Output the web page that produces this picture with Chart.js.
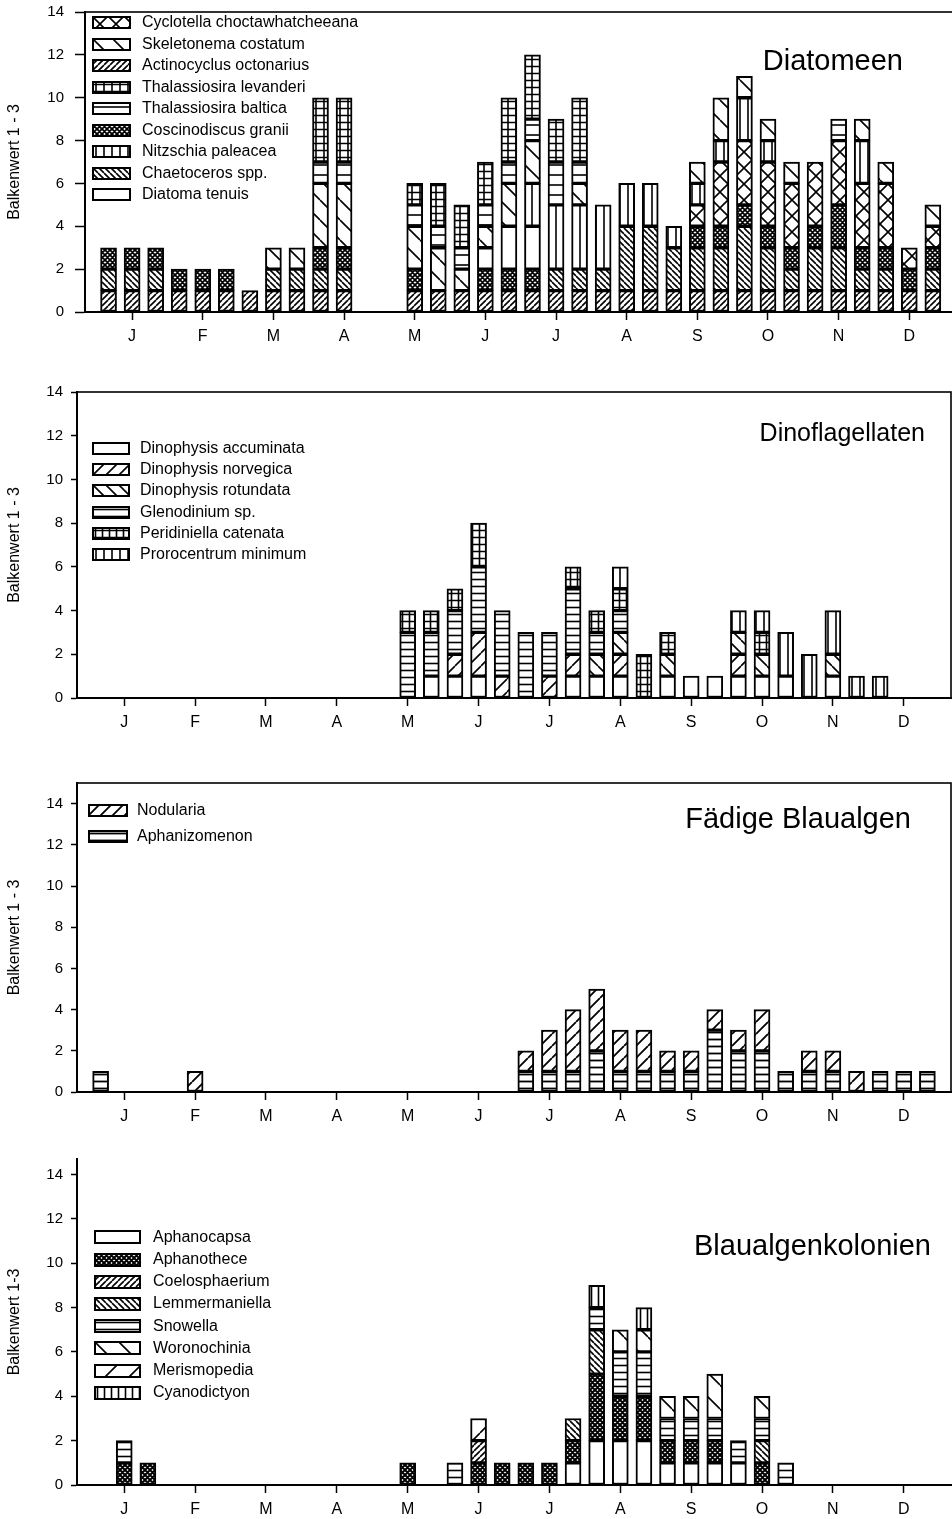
<!DOCTYPE html>
<html>
<head>
<meta charset="utf-8">
<script src="https://cdn.jsdelivr.net/npm/chart.js@4.4.0/dist/chart.umd.min.js"></script>
<style>
  body { margin: 0; width: 952px; height: 1519px; overflow: hidden; background: #fff; position: relative;
         font-family: "Liberation Sans", Arial, sans-serif; color: #000; }
  canvas.panel { position: absolute; left: 0; }
  .title { position: absolute; line-height: 32px; white-space: nowrap; text-align: right; }
  .lg-text { position: absolute; font-size: 16px; line-height: 18px; white-space: nowrap; }
  canvas.swatch { position: absolute; }
</style>
</head>
<body>
<canvas class="panel" id="c1"></canvas>
<canvas class="panel" id="c2"></canvas>
<canvas class="panel" id="c3"></canvas>
<canvas class="panel" id="c4"></canvas>

<script>
// x positions: decade of the year (3 per month), 0 = early January
const months = ['J', 'F', 'M', 'A', 'M', 'J', 'J', 'A', 'S', 'O', 'N', 'D'];
const monthTicks = [1, 4, 7, 10, 13, 16, 19, 22, 25, 28, 31, 34];
const yTicks = [0, 2, 4, 6, 8, 10, 12, 14];

// --- Diatomeen (Balkenwert per decade) ---
const actinocyclus   = [1,1,1,1,1,1,1,1,1,1,1,0,0,1,1,1,1,1,1,1,1,1,1,1,1,1,1,1,1,1,1,1,1,1,1,1];
const chaetoceros    = [1,1,1,0,0,0,0,1,1,1,1,0,0,0,0,0,0,0,0,1,1,1,3,3,2,2,2,3,2,1,2,2,1,1,0,1];
const coscinodiscus  = [1,1,1,1,1,1,0,0,0,1,1,0,0,1,0,0,1,1,1,0,0,0,0,0,0,1,1,1,1,1,1,2,1,1,1,1];
const diatoma        = [0,0,0,0,0,0,0,0,0,0,0,0,0,0,0,0,1,2,2,0,0,0,0,0,0,0,0,0,0,0,0,0,0,0,0,0];
const cyclotella     = [0,0,0,0,0,0,0,0,0,0,0,0,0,0,0,0,0,0,0,0,0,0,0,0,0,1,3,3,3,3,3,3,3,3,1,1];
const nitzschia      = [0,0,0,0,0,0,0,0,0,0,0,0,0,0,0,0,0,0,2,3,3,3,2,2,1,1,1,2,1,0,0,0,2,0,0,0];
const skeletonema    = [0,0,0,0,0,0,0,1,1,3,3,0,0,2,2,1,1,2,2,0,1,0,0,0,0,1,2,1,1,1,0,0,1,1,0,1];
const tBaltica       = [0,0,0,0,0,0,0,0,0,1,1,0,0,1,1,1,1,1,1,2,1,0,0,0,0,0,0,0,0,0,0,1,0,0,0,0];
const tLevanderi     = [0,0,0,0,0,0,0,0,0,3,3,0,0,1,2,2,2,3,3,2,3,0,0,0,0,0,0,0,0,0,0,0,0,0,0,0];

// --- Dinoflagellaten ---
const dAccuminata    = [0,0,0,0,0,0,0,0,0,0,0,0,0,0,1,1,1,0,0,0,1,1,1,0,1,1,1,1,1,1,0,1,0,0,0,0];
const dNorvegica     = [0,0,0,0,0,0,0,0,0,0,0,0,0,0,0,1,2,1,0,1,1,0,1,0,0,0,0,1,0,0,0,0,0,0,0,0];
const dRotundata     = [0,0,0,0,0,0,0,0,0,0,0,0,0,0,0,0,0,0,0,0,0,1,1,0,1,0,0,1,1,0,0,1,0,0,0,0];
const glenodinium    = [0,0,0,0,0,0,0,0,0,0,0,0,0,3,2,2,3,3,3,2,3,1,1,0,0,0,0,0,0,0,0,0,0,0,0,0];
const peridiniella   = [0,0,0,0,0,0,0,0,0,0,0,0,0,1,1,1,2,0,0,0,1,1,1,2,1,0,0,0,1,0,0,0,0,0,0,0];
const prorocentrum   = [0,0,0,0,0,0,0,0,0,0,0,0,0,0,0,0,0,0,0,0,0,0,1,0,0,0,0,1,1,2,2,2,1,1,0,0];

// --- Fädige Blaualgen ---
const aphanizomenon  = [1,0,0,0,0,0,0,0,0,0,0,0,0,0,0,0,0,0,1,1,1,2,1,1,1,1,3,2,2,1,1,1,0,1,1,1];
const nodularia      = [0,0,0,0,1,0,0,0,0,0,0,0,0,0,0,0,0,0,1,2,3,3,2,2,1,1,1,1,2,0,1,1,1,0,0,0];

// --- Blaualgenkolonien ---
const aphanocapsa    = [0,0,0,0,0,0,0,0,0,0,0,0,0,0,0,0,0,0,0,0,1,2,2,2,1,1,1,1,0,0,0,0,0,0,0,0];
const aphanothece    = [0,1,1,0,0,0,0,0,0,0,0,0,0,1,0,0,1,1,1,1,1,3,2,2,1,1,1,0,1,0,0,0,0,0,0,0];
const coelosphaerium = [0,0,0,0,0,0,0,0,0,0,0,0,0,0,0,0,1,0,0,0,0,0,0,0,0,0,0,0,0,0,0,0,0,0,0,0];
const lemmermaniella = [0,0,0,0,0,0,0,0,0,0,0,0,0,0,0,0,0,0,0,0,1,2,0,0,0,0,0,0,1,0,0,0,0,0,0,0];
const snowella       = [0,1,0,0,0,0,0,0,0,0,0,0,0,0,0,1,0,0,0,0,0,1,2,2,1,1,1,1,1,1,0,0,0,0,0,0];
const woronochinia   = [0,0,0,0,0,0,0,0,0,0,0,0,0,0,0,0,0,0,0,0,0,0,1,1,1,1,2,0,1,0,0,0,0,0,0,0];
const merismopedia   = [0,0,0,0,0,0,0,0,0,0,0,0,0,0,0,0,1,0,0,0,0,0,0,0,0,0,0,0,0,0,0,0,0,0,0,0];
const cyanodictyon   = [0,0,0,0,0,0,0,0,0,0,0,0,0,0,0,0,0,0,0,0,0,1,0,1,0,0,0,0,0,0,0,0,0,0,0,0];

// hatch tiles
function makeTile(spec) {
  const sx = spec.sx || spec.s || 4, sy = spec.sy || spec.s || 4;
  let w = sx, h = sy;
  if (spec.kind === 'horiz') w = 4;
  if (spec.kind === 'vert') h = 4;
  const c = document.createElement('canvas');
  c.width = w; c.height = h;
  const g = c.getContext('2d');
  g.fillStyle = '#fff';
  g.fillRect(0, 0, w, h);
  g.strokeStyle = '#000';
  g.lineWidth = spec.lw || 1.6;
  g.beginPath();
  const k = spec.kind;
  if (k === 'fwd' || k === 'cross') for (const o of [-w, 0, w]) { g.moveTo(o, h); g.lineTo(o + w, 0); }
  if (k === 'back' || k === 'cross') for (const o of [-w, 0, w]) { g.moveTo(o, 0); g.lineTo(o + w, h); }
  if (k === 'horiz' || k === 'grid') { g.moveTo(0, h / 2); g.lineTo(w, h / 2); }
  if (k === 'vert' || k === 'grid') { g.moveTo(w / 2, 0); g.lineTo(w / 2, h); }
  g.stroke();
  return c;
}
function pattern(ctx, spec) {
  return ctx.createPattern(makeTile(spec), 'repeat');
}

const EMPTY = { kind: 'none' };

const panels = [
  {
    id: 'c1', canvasTop: 0, width: 960, plot: { left: 85, right: 956.4, top: 12, bottom: 312 }, ymax: 14,
    yTitle: 'Balkenwert 1 - 3', frame: true, yTick: 10, yPad: 11,
    series: [
      { label: 'Actinocyclus octonarius', values: actinocyclus, fill: { kind: 'fwd', s: 6 } },
      { label: 'Chaetoceros spp.', values: chaetoceros, fill: { kind: 'back', s: 6 } },
      { label: 'Coscinodiscus granii', values: coscinodiscus, fill: { kind: 'cross', s: 5, lw: 1.8 } },
      { label: 'Diatoma tenuis', values: diatoma, fill: EMPTY },
      { label: 'Cyclotella choctawhatcheeana', values: cyclotella, fill: { kind: 'cross', s: 16 } },
      { label: 'Nitzschia paleacea', values: nitzschia, fill: { kind: 'vert', s: 8 } },
      { label: 'Skeletonema costatum', values: skeletonema, fill: { kind: 'back', s: 20 } },
      { label: 'Thalassiosira baltica', values: tBaltica, fill: { kind: 'horiz', s: 10 } },
      { label: 'Thalassiosira levanderi', values: tLevanderi, fill: { kind: 'grid', sx: 8, sy: 7 } }
    ],
    legendOrder: ['Cyclotella choctawhatcheeana', 'Skeletonema costatum', 'Actinocyclus octonarius',
      'Thalassiosira levanderi', 'Thalassiosira baltica', 'Coscinodiscus granii', 'Nitzschia paleacea',
      'Chaetoceros spp.', 'Diatoma tenuis'],
    legend: { swatchX: 92, textX: 142, y0: 22.7, dy: 21.5, w: 39, h: 13 },
    title: { text: 'Diatomeen', right: 903, cy: 60, size: 29 }
  },
  {
    id: 'c2', canvasTop: 380, width: 952, plot: { left: 77, right: 951, top: 392, bottom: 698 }, ymax: 14,
    yTitle: 'Balkenwert 1 - 3', frame: true, yTick: 6, yPad: 8,
    series: [
      { label: 'Dinophysis accuminata', values: dAccuminata, fill: EMPTY },
      { label: 'Dinophysis norvegica', values: dNorvegica, fill: { kind: 'fwd', s: 13 } },
      { label: 'Dinophysis rotundata', values: dRotundata, fill: { kind: 'back', s: 13 } },
      { label: 'Glenodinium sp.', values: glenodinium, fill: { kind: 'horiz', s: 7 } },
      { label: 'Peridiniella catenata', values: peridiniella, fill: { kind: 'grid', sx: 7, sy: 7 } },
      { label: 'Prorocentrum minimum', values: prorocentrum, fill: { kind: 'vert', s: 8 } }
    ],
    legend: { swatchX: 92, textX: 140, y0: 448.3, dy: 21.3, w: 38, h: 13 },
    title: { text: 'Dinoflagellaten', right: 925, cy: 432, size: 25 }
  },
  {
    id: 'c3', canvasTop: 770, width: 952, plot: { left: 77, right: 951, top: 783, bottom: 1092 }, ymax: 15,
    yTitle: 'Balkenwert 1 - 3', frame: true, yTick: 6, yPad: 8,
    series: [
      { label: 'Aphanizomenon', values: aphanizomenon, fill: { kind: 'horiz', s: 7, lw: 1.8 } },
      { label: 'Nodularia', values: nodularia, fill: { kind: 'fwd', s: 12, lw: 1.8 } }
    ],
    legendOrder: ['Nodularia', 'Aphanizomenon'],
    legend: { swatchX: 88, textX: 137, y0: 810.7, dy: 26, w: 40, h: 13 },
    title: { text: 'Fädige Blaualgen', right: 911, cy: 818, size: 29 }
  },
  {
    id: 'c4', canvasTop: 1145, width: 952, plot: { left: 77, right: 951, top: 1159, bottom: 1485 }, ymax: 14.7,
    yTitle: 'Balkenwert 1-3', frame: false, yTick: 6, yPad: 8,
    series: [
      { label: 'Aphanocapsa', values: aphanocapsa, fill: EMPTY },
      { label: 'Aphanothece', values: aphanothece, fill: { kind: 'cross', s: 5, lw: 2 } },
      { label: 'Coelosphaerium', values: coelosphaerium, fill: { kind: 'fwd', s: 6 } },
      { label: 'Lemmermaniella', values: lemmermaniella, fill: { kind: 'back', s: 6 } },
      { label: 'Snowella', values: snowella, fill: { kind: 'horiz', s: 7 } },
      { label: 'Woronochinia', values: woronochinia, fill: { kind: 'back', s: 24 } },
      { label: 'Merismopedia', values: merismopedia, fill: { kind: 'fwd', s: 24 } },
      { label: 'Cyanodictyon', values: cyanodictyon, fill: { kind: 'vert', s: 7 } }
    ],
    legend: { swatchX: 94, textX: 153, y0: 1237.3, dy: 22.2, w: 47, h: 14 },
    title: { text: 'Blaualgenkolonien', right: 931, cy: 1245, size: 29 }
  }
];

const FONT = '"Liberation Sans", Arial, sans-serif';

const frame = {
  id: 'frame',
  afterDraw(chart, args, opts) {
    if (!opts.show) return;
    const a = chart.chartArea, c = chart.ctx;
    c.save();
    c.strokeStyle = '#000';
    c.lineWidth = 1.6;
    c.strokeRect(a.left, a.top, a.right - a.left, a.bottom - a.top);
    c.restore();
  }
};

function toPoints(values) {
  const pts = [];
  values.forEach((v, i) => { if (v) pts.push({ x: i, y: v }); });
  return pts;
}

function buildPanel(p) {
  const canvas = document.getElementById(p.id);
  const H = Math.ceil(p.plot.bottom - p.canvasTop + 45);
  canvas.width = p.width;
  canvas.height = H;
  canvas.style.top = p.canvasTop + 'px';
  const ctx = canvas.getContext('2d');
  const xHeight = H - (p.plot.bottom - p.canvasTop);

  new Chart(ctx, {
    type: 'bar',
    data: {
      datasets: p.series.map(s => ({
        label: s.label,
        data: toPoints(s.values),
        backgroundColor: pattern(ctx, s.fill),
        borderColor: '#000',
        borderWidth: 2,
        borderSkipped: false,
        barThickness: 16
      }))
    },
    options: {
      responsive: false,
      animation: false,
      devicePixelRatio: 1,
      layout: { padding: { left: 0, top: p.plot.top - p.canvasTop, right: p.width - p.plot.right, bottom: 0 } },
      plugins: { legend: { display: false }, tooltip: { enabled: false }, frame: { show: p.frame } },
      scales: {
        x: {
          type: 'linear', stacked: true, min: -1, max: 36, offset: false,
          afterBuildTicks: s => { s.ticks = monthTicks.map(v => ({ value: v })); },
          afterFit: s => { s.height = xHeight; s.paddingLeft = 0; s.paddingRight = 0; },
          ticks: { callback: (v, i) => months[i], autoSkip: false, maxRotation: 0, color: '#000',
                   font: { family: FONT, size: 16 }, padding: 7 },
          grid: { offset: false, drawOnChartArea: false, tickLength: 8, tickColor: '#000', tickWidth: 1.5 },
          border: { color: '#000', width: 2 }
        },
        y: {
          stacked: true, min: 0, max: p.ymax,
          afterBuildTicks: s => { s.ticks = yTicks.map(v => ({ value: v })); },
          afterFit: s => { s.width = p.plot.left; s.paddingTop = 0; s.paddingBottom = 0; },
          ticks: { color: '#000', font: { family: FONT, size: 15 }, padding: p.yPad },
          grid: { drawOnChartArea: false, tickLength: p.yTick, tickColor: '#000', tickWidth: 1.5 },
          border: { color: '#000', width: 2 },
          title: { display: true, text: p.yTitle, color: '#000', font: { family: FONT, size: 16 },
                   padding: { top: 5, bottom: 0 } }
        }
      }
    },
    plugins: [frame]
  });

  // legend
  const order = p.legendOrder || p.series.map(s => s.label);
  order.forEach((name, k) => {
    const s = p.series.find(d => d.label === name);
    const cy = p.legend.y0 + k * p.legend.dy;
    const sw = document.createElement('canvas');
    sw.className = 'swatch';
    sw.width = p.legend.w;
    sw.height = p.legend.h;
    sw.style.left = p.legend.swatchX + 'px';
    sw.style.top = Math.round(cy - p.legend.h / 2) + 'px';
    const g = sw.getContext('2d');
    g.fillStyle = pattern(g, s.fill);
    g.fillRect(0, 0, sw.width, sw.height);
    g.strokeStyle = '#000';
    g.lineWidth = 2;
    g.strokeRect(1, 1, sw.width - 2, sw.height - 2);
    document.body.appendChild(sw);
    const t = document.createElement('div');
    t.className = 'lg-text';
    t.textContent = name;
    t.style.left = p.legend.textX + 'px';
    t.style.top = (cy - 9.5) + 'px';
    document.body.appendChild(t);
  });

  const tt = document.createElement('div');
  tt.className = 'title';
  tt.textContent = p.title.text;
  tt.style.fontSize = p.title.size + 'px';
  tt.style.right = (952 - p.title.right) + 'px';
  tt.style.top = (p.title.cy - 16) + 'px';
  document.body.appendChild(tt);
}

panels.forEach(buildPanel);
</script>
</body>
</html>
